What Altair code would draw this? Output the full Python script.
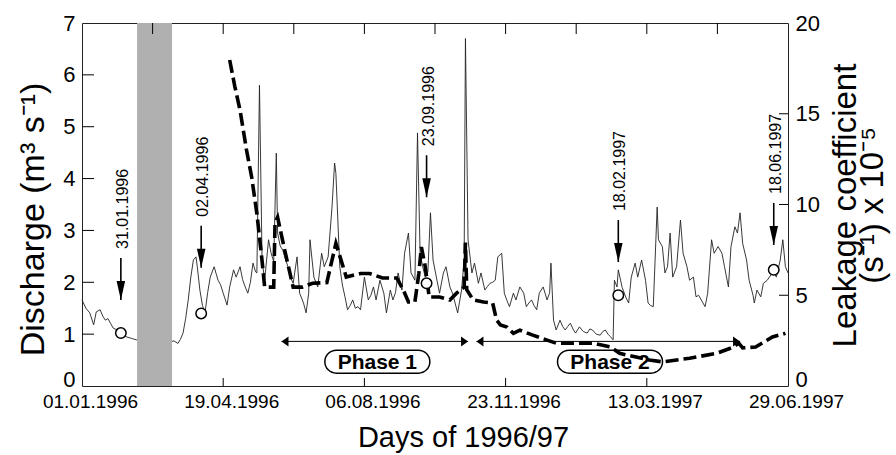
import altair as alt
import pandas as pd

# ---------------- data (x = days since 01.01.1996) ----------------
q_day = [0, 3, 6, 9, 11, 14, 16, 18, 20, 22, 24, 27, 29, 32, 34, 38, 42, 45, 47, 49,
         51, 53, 55, 57, 59, 61, 63, 65, 68, 71, 74, 76, 78, 80, 82, 84, 86, 88, 89, 91,
         93, 95, 97, 99, 102, 105, 107, 109, 112, 114, 117, 119, 122, 124, 126, 128, 130, 132, 134, 135,
         137, 139, 141, 144, 146, 148, 150, 151, 153, 155, 157, 159, 161, 163, 166, 168, 171, 173, 175, 176,
         179, 182, 185, 187, 190, 193, 195, 196, 199, 201, 203, 205, 207, 209, 211, 213, 215, 218, 221, 223,
         225, 227, 230, 233, 235, 238, 240, 242, 244, 247, 249, 252, 254, 257, 259, 261, 263, 265, 267, 269,
         271, 274, 276, 279, 281, 284, 286, 288, 290, 293, 295, 296, 298, 301, 303, 306, 308, 311, 313, 315,
         317, 319, 321, 324, 326, 328, 330, 333, 335, 338, 341, 343, 345, 347, 349, 351, 353, 356, 359, 361,
         362, 364, 366, 369, 371, 373, 375, 377, 379, 381, 384, 387, 390, 392, 394, 397, 400, 402, 404, 406,
         408, 410, 411, 413, 414, 417, 420, 422, 424, 427, 429, 432, 435, 437, 439, 441, 444, 445, 448, 450,
         452, 454, 456, 459, 462, 464, 467, 469, 472, 474, 476, 478, 481, 483, 486, 488, 491, 494, 496, 499,
         501, 504, 506, 508, 510, 513, 515, 518, 519, 521, 524, 526, 529, 532, 534, 536, 539, 541, 543, 545]
q_val = [1.66, 1.50, 1.41, 1.18, 1.43, 1.47, 1.35, 1.27, 1.30, 1.21, 1.12, 1.08, 1.02, 0.98, 0.95, 0.92, 0.89, 0.92, 0.95, 1.10,
         1.34, 1.20, 1.02, 0.96, 0.92, 1.00, 0.95, 0.90, 0.85, 0.87, 0.82, 0.90, 1.02, 1.30, 1.66, 2.10, 2.43, 2.49, 2.30, 1.85,
         1.55, 1.42, 1.80, 2.10, 2.30, 2.04, 1.95, 1.79, 1.56, 1.91, 2.24, 2.10, 2.30, 2.05, 1.91, 1.79, 2.00, 2.37, 2.20, 2.18,
         5.80, 2.43, 2.04, 2.82, 2.56, 2.40, 4.49, 2.95, 2.70, 2.62, 2.45, 2.30, 2.10, 1.98, 2.49, 1.79, 1.60, 1.41, 1.79, 2.82,
         2.10, 1.91, 2.56, 2.30, 2.49, 3.45, 4.30, 4.10, 2.30, 1.95, 1.72, 1.47, 1.55, 1.66, 1.50, 1.53, 1.47, 2.10, 1.66, 1.75,
         1.91, 1.66, 2.04, 1.79, 1.41, 1.85, 1.66, 1.80, 2.18, 1.85, 2.56, 2.95, 2.18, 2.04, 4.88, 2.56, 2.30, 2.10, 2.20, 3.34,
         2.43, 2.04, 1.79, 2.18, 2.30, 1.91, 1.79, 1.60, 1.41, 1.85, 2.43, 6.70, 2.82, 2.18, 2.37, 1.98, 2.18, 1.85, 1.92, 1.98,
         2.00, 2.04, 2.49, 2.56, 1.79, 1.65, 1.53, 1.79, 1.66, 1.91, 1.79, 1.53, 1.60, 1.66, 1.55, 1.47, 1.79, 1.91, 1.66, 1.80,
         2.37, 1.27, 1.08, 1.27, 1.15, 1.08, 1.15, 1.21, 1.10, 1.02, 1.14, 1.05, 1.02, 1.10, 1.08, 1.00, 0.98, 1.05, 1.08, 1.00,
         0.95, 0.89, 2.04, 1.91, 2.24, 1.90, 1.70, 1.60, 2.10, 2.37, 2.10, 2.43, 2.04, 1.60, 1.55, 1.53, 3.45, 2.82, 2.69, 2.18,
         2.30, 2.95, 2.10, 2.30, 3.20, 2.56, 2.30, 2.04, 2.10, 1.72, 1.75, 1.66, 1.53, 1.79, 2.82, 2.56, 2.69, 2.56, 2.30, 1.91,
         2.69, 3.07, 2.95, 3.34, 2.75, 2.43, 2.04, 1.75, 1.60, 1.85, 1.72, 1.98, 2.04, 2.15, 2.20, 2.10, 2.43, 2.82, 2.30, 2.18]

k_day = [114, 118, 122, 127, 131, 135, 139, 141, 148, 149, 151, 154, 158, 163, 170, 178, 189, 196, 204, 215,
         222, 232, 243, 248, 252, 257, 260, 262, 265, 267, 268, 276, 284, 289, 295, 296, 297, 302, 310, 317,
         320, 323, 328, 333, 338, 348, 359, 366, 379, 394, 408, 415, 438, 448, 469, 490, 503, 507, 510, 520,
         533, 543]
k_val = [17.96, 16.5, 15.2, 13.0, 11.5, 9.5, 6.9, 5.45, 5.45, 9.0, 9.3, 8.3, 7.0, 5.45, 5.45, 5.66, 5.7, 7.86, 6.0, 6.2,
         6.2, 5.95, 5.95, 5.3, 4.63, 4.63, 6.2, 7.66, 6.56, 5.45, 4.9, 4.9, 4.74, 5.1, 5.45, 7.9, 5.3, 4.74, 4.63, 4.57,
         3.64, 3.36, 3.25, 2.9, 3.08, 2.8, 2.53, 2.36, 2.36, 2.36, 2.15, 1.8, 1.43, 1.33, 1.53, 1.8, 2.15, 2.36, 2.1, 2.15,
         2.7, 2.9]

obs_labels = ["31.01.1996", "02.04.1996", "23.09.1996", "18.02.1997", "18.06.1997"]
obs_day = [30, 92, 266, 414, 534]
obs_q = [1.02, 1.40, 1.98, 1.75, 2.24]
obs_arrow_tip = [1.66, 2.28, 3.64, 2.39, 2.72]

phase_labels = ["Phase 1", "Phase 2"]
phase_start = [154, 304.5]
phase_end = [298, 508]
phase_level = [0.86, 0.86]
phase_label_day = [228, 407.6]
phase_label_q = [0.47, 0.47]

shade_start = [42.5]
shade_end = [69.5]

x_tick_days = [0, 109, 218, 327, 436, 545]
x_tick_labels = ["01.01.1996", "19.04.1996", "06.08.1996", "23.11.1996", "13.03.1997", "29.06.1997"]
x_minor_days = [54.5, 109, 163.5, 218, 272.5, 327, 381.5, 436, 490.5]
q_ticks = [0, 1, 2, 3, 4, 5, 6, 7]
k_ticks = [0, 5, 10, 15, 20]

# ---------------- frames ----------------
q_df = pd.DataFrame({"day": q_day, "q": q_val})
k_df = pd.DataFrame({"day": k_day, "k": k_val})
obs_df = pd.DataFrame({"day": obs_day, "q": obs_q, "tip": obs_arrow_tip, "label": obs_labels})
ph_df = pd.DataFrame({"start": phase_start, "end": phase_end, "lvl": phase_level,
                      "lday": phase_label_day, "lq": phase_label_q, "label": phase_labels})
sh_df = pd.DataFrame({"s": shade_start, "e": shade_end})

W, H = 706, 363
FONT = "Liberation Sans"
xs = alt.Scale(domain=[0, 545], nice=False, zero=False)
yq = alt.Scale(domain=[0, 7], nice=False, zero=False)
yk = alt.Scale(domain=[0, 20], nice=False, zero=False)

label_expr = ("[" + ",".join("'%s'" % s for s in x_tick_labels) + "][indexof(["
              + ",".join(str(d) for d in x_tick_days) + "], datum.value)]")
zero_baseline = {"condition": {"test": "datum.value == 0", "value": "alphabetic"}, "value": "middle"}

x_axis = alt.Axis(values=x_tick_days, labelExpr=label_expr, ticks=False, domain=False, grid=False,
                  labelFontSize=19, labelPadding=6, labelOffset=8, labelOverlap=False,
                  labelFlush=False, labelColor="black", labelFont=FONT,
                  title="Days of 1996/97", titleFontSize=29, titleFontWeight="normal", titleFont=FONT,
                  titleX=381, titleY=60, titleAlign="center", titleBaseline="alphabetic", titleColor="black")
yq_axis = alt.Axis(values=q_ticks, ticks=False, domain=False, grid=False, labelFontSize=22,
                   labelPadding=7, labelColor="black", labelFont=FONT, labelBaseline=zero_baseline,
                   title="Discharge (m³ s⁻¹)", titleFontSize=34, titleFontWeight="normal", titleFont=FONT,
                   titleAngle=270, titleX=-39, titleY=196, titleAlign="center",
                   titleBaseline="alphabetic", titleColor="black")
yk_axis = alt.Axis(orient="right", values=k_ticks, ticks=False, domain=False, grid=False,
                   labelFontSize=22, labelPadding=7, labelColor="black", labelFont=FONT,
                   labelBaseline=zero_baseline,
                   title=["Leakage coefficient", "(s⁻¹) x 10⁻⁵"], titleFontSize=33,
                   titleFontWeight="normal", titleFont=FONT, titleAngle=270, titleX=67, titleY=182,
                   titleAlign="center", titleBaseline="alphabetic", titleLineHeight=27, titleColor="black")


def X(field):
    # every layer shares the same x scale and the same x axis definition
    return alt.X(field, scale=xs, axis=x_axis)


# ---------------- discharge-side layers ----------------
shade = alt.Chart(sh_df).mark_rect(color="#b0b0b0").encode(
    x=X("s:Q"), x2="e:Q", y=alt.value(0), y2=alt.value(H))

q_line = alt.Chart(q_df).mark_line(color="#222222", strokeWidth=0.9).encode(
    x=X("day:Q"), y=alt.Y("q:Q", scale=yq, axis=yq_axis))

top_ticks = alt.Chart(pd.DataFrame({"day": x_minor_days})).mark_rule(color="black", strokeWidth=1).encode(
    x=X("day:Q"), y=alt.value(0), y2=alt.value(11))
bot_ticks = alt.Chart(pd.DataFrame({"day": x_tick_days[1:-1]})).mark_rule(color="black", strokeWidth=1).encode(
    x=X("day:Q"), y=alt.value(H - 8), y2=alt.value(H))
left_ticks = alt.Chart(pd.DataFrame({"q": q_ticks[1:-1]})).mark_rule(color="black", strokeWidth=1).encode(
    y=alt.Y("q:Q", scale=yq, axis=None), x=alt.value(0), x2=alt.value(12))

ph_rule = alt.Chart(ph_df).mark_rule(color="black", strokeWidth=1).encode(
    x=X("start:Q"), x2="end:Q", y=alt.Y("lvl:Q", scale=yq, axis=None))
ph_head_l = alt.Chart(ph_df).mark_point(shape="M0.7,-1L0.7,1L-0.7,0Z", size=100, filled=True,
                                        color="black", opacity=1, xOffset=3.5).encode(
    x=X("start:Q"), y=alt.Y("lvl:Q", scale=yq, axis=None))
ph_head_r = alt.Chart(ph_df).mark_point(shape="M-0.7,-1L-0.7,1L0.7,0Z", size=100, filled=True,
                                        color="black", opacity=1, xOffset=-3.5).encode(
    x=X("end:Q"), y=alt.Y("lvl:Q", scale=yq, axis=None))
stadium = ("M-0.781,-0.219L0.781,-0.219A0.219,0.219,0,0,1,0.781,0.219"
           "L-0.781,0.219A0.219,0.219,0,0,1,-0.781,-0.219Z")
ph_box = alt.Chart(ph_df).mark_point(shape=stadium, size=11025, filled=True, fill="white",
                                     stroke="black", strokeWidth=1.5, opacity=1).encode(
    x=X("lday:Q"), y=alt.Y("lq:Q", scale=yq, axis=None))
ph_text = alt.Chart(ph_df).mark_text(font=FONT, fontSize=21, fontWeight="bold", color="black",
                                     baseline="middle", align="center", dy=1).encode(
    x=X("lday:Q"), y=alt.Y("lq:Q", scale=yq, axis=None), text="label:N")

arr_rule = alt.Chart(obs_df).mark_rule(color="black", strokeWidth=1.6, y2Offset=-42).encode(
    x=X("day:Q"), y=alt.Y("tip:Q", scale=yq, axis=None), y2="tip:Q")
arr_head = alt.Chart(obs_df).mark_point(shape="M-0.45,-1L0.45,-1L0,1Z", size=361, filled=True,
                                        color="black", opacity=1, yOffset=-9.5).encode(
    x=X("day:Q"), y=alt.Y("tip:Q", scale=yq, axis=None))
arr_text = alt.Chart(obs_df).mark_text(font=FONT, fontSize=16, color="black", angle=270,
                                       align="left", baseline="middle", dx=51, dy=2).encode(
    x=X("day:Q"), y=alt.Y("tip:Q", scale=yq, axis=None), text="label:N")

# ---------------- leakage-side layers ----------------
k_line = alt.Chart(k_df).mark_line(color="black", strokeWidth=3.6, strokeDash=[13, 5]).encode(
    x=X("day:Q"), y=alt.Y("k:Q", scale=yk, axis=yk_axis))
right_ticks = alt.Chart(pd.DataFrame({"k": k_ticks[1:-1]})).mark_rule(color="black", strokeWidth=1).encode(
    y=alt.Y("k:Q", scale=yk, axis=None), x=alt.value(W - 9), x2=alt.value(W))

circles = alt.Chart(obs_df).mark_point(shape="circle", size=110, filled=True, fill="white",
                                       stroke="black", strokeWidth=1.5, opacity=1).encode(
    x=X("day:Q"), y=alt.Y("q:Q", scale=yq, axis=None))

chart = alt.layer(
    q_line, shade, top_ticks, bot_ticks, left_ticks, ph_rule, ph_head_l, ph_head_r,
    ph_box, ph_text, arr_rule, arr_head, arr_text, k_line, right_ticks, circles
).resolve_scale(y="independent").properties(
    width=W, height=H,
    autosize=alt.AutoSizeParams(type="none"),
    padding={"left": 82, "top": 23, "right": 108, "bottom": 69},
    background="white",
).configure(font=FONT).configure_view(stroke="#222222", strokeWidth=1)

chart.save("out.html", embed_options={"renderer": "svg", "actions": False})
